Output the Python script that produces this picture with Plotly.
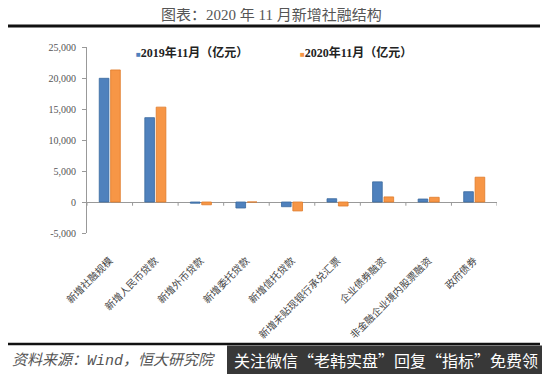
import plotly.graph_objects as go

categories = ["新增社融规模", "新增人民币贷款", "新增外币贷款", "新增委托贷款", "新增信托贷款",
              "新增未贴现银行承兑汇票", "企业债券融资", "非金融企业境内股票融资", "政府债券"]
values_2019 = [19950, 13600, -200, -970, -760, 530, 3250, 480, 1660]
values_2020 = [21300, 15300, -450, 0, -1440, -650, 820, 760, 4000]
series_names = ["2019年11月（亿元）", "2020年11月（亿元）"]
series_colors = ["#4F81BD", "#F79646"]
y_ticks = [-5000, 0, 5000, 10000, 15000, 20000, 25000]
y_tick_labels = ["-5,000", "0", "5,000", "10,000", "15,000", "20,000", "25,000"]

SERIF = "Liberation Serif, Times New Roman, Noto Sans CJK SC, serif"
CJK = "Noto Sans CJK SC, sans-serif"

# plot area in screen pixels (page has an 8px body margin)
PX0, PX1, PY0, PY1 = 87, 497, 47, 233
OFF = 8


def px(x):
    return (x - PX0) / (PX1 - PX0)


def py(y):
    return (PY1 - y) / (PY1 - PY0)


fig = go.Figure()
fig.add_trace(go.Bar(x=categories, y=values_2019, name=series_names[0], showlegend=False,
                     marker=dict(color=series_colors[0], line=dict(color="#3A6A9E", width=0.8))))
fig.add_trace(go.Bar(x=categories, y=values_2020, name=series_names[1], showlegend=False,
                     marker=dict(color=series_colors[1], line=dict(color="#E07B2A", width=0.8))))

shapes = []
for i in range(len(categories) + 1):
    shapes.append(dict(type="line", xref="x", yref="y", x0=i - 0.5, x1=i - 0.5,
                       y0=0, y1=-600, line=dict(color="#999999", width=1)))
shapes += [
    dict(type="line", xref="paper", yref="paper", x0=px(3), x1=px(540),
         y0=py(26), y1=py(26), line=dict(color="#111111", width=3)),
    dict(type="line", xref="paper", yref="paper", x0=px(3), x1=px(540),
         y0=py(344), y1=py(344), line=dict(color="#111111", width=2.5)),
    dict(type="rect", xref="paper", yref="paper", x0=px(227), x1=px(545),
         y0=py(380), y1=py(345.5), fillcolor="#383838", line=dict(width=0), layer="above"),
]

annotations = [
    dict(text="图表：2020 年 11 月新增社融结构", xref="paper", yref="paper",
         x=px(271), y=py(15), xanchor="center", yanchor="middle",
         showarrow=False, font=dict(family=SERIF, size=15, color="#555555")),
    dict(text="<i>资料来源：<span style='font-family:Liberation Mono'>Wind</span>，恒大研究院</i>",
         xref="paper", yref="paper",
         x=px(10), y=py(359), xanchor="left", yanchor="middle",
         showarrow=False, font=dict(family=CJK, size=15, color="#555555")),
    dict(text="关注微信“老韩实盘”回复“指标”免费领", xref="paper", yref="paper",
         x=px(232), y=py(360), xanchor="left", yanchor="middle",
         showarrow=False, font=dict(family=CJK, size=16, color="#ffffff")),
]
for name, color, lx in zip(series_names, series_colors, [134, 298]):
    annotations.append(dict(
        text=f"<span style='color:{color};font-size:8px'>■</span><b>{name}</b>",
        xref="paper", yref="paper", x=px(lx), y=py(53), xanchor="left", yanchor="middle",
        showarrow=False, font=dict(family=SERIF, size=12, color="#222222")))

fig.update_layout(
    width=550, height=374,
    margin=dict(l=PX0 - OFF, r=550 + OFF - PX1, t=PY0 - OFF, b=374 + OFF - PY1),
    paper_bgcolor="white", plot_bgcolor="white",
    barmode="group", bargap=0.5, bargroupgap=0.15,
    showlegend=False,
    shapes=shapes, annotations=annotations,
    font=dict(family=SERIF, color="#555555"),
)
fig.update_yaxes(range=[-5000, 25000], tickvals=y_ticks, ticktext=y_tick_labels,
                 showgrid=False, zeroline=True, zerolinecolor="#999999", zerolinewidth=1,
                 showline=True, linecolor="#999999", linewidth=1,
                 ticks="outside", ticklen=4, tickcolor="#999999", ticklabelstandoff=4,
                 tickfont=dict(family=SERIF, size=10, color="#555555"))
fig.update_xaxes(range=[-0.5, 8.5], tickangle=-45, showgrid=False, showline=False,
                 ticks="outside", ticklen=17, tickcolor="rgba(0,0,0,0)",
                 tickfont=dict(family=CJK, size=10, color="#444444"))

fig.write_html("out.html")
